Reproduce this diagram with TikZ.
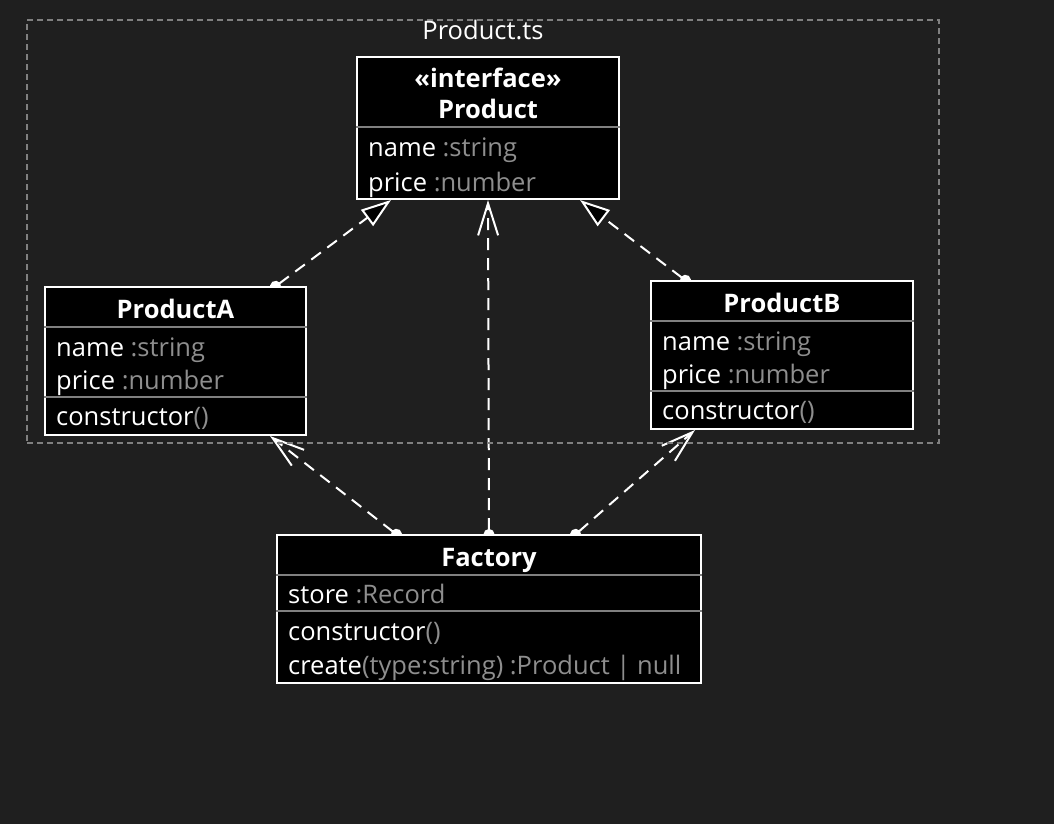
\documentclass[tikz,border=0pt]{standalone}
\usepackage{fontspec}
\setmainfont{Open Sans}
\usetikzlibrary{arrows.meta}

\definecolor{canvas}{HTML}{1F1F1F}
\definecolor{typegray}{HTML}{8E8E8E}
\definecolor{rulegray}{HTML}{808080}
\pgfdeclarelayer{canvas}
\pgfdeclarelayer{links}
\pgfsetlayers{canvas,links,main}

\tikzset{
  class/.style={draw=white,fill=black,line width=2pt,inner sep=0pt},
  title/.style={text=white,font=\fontsize{25.5}{30}\selectfont\bfseries,anchor=base,inner sep=0pt},
  member/.style={text=white,font=\fontsize{25.5}{30}\selectfont,anchor=base west,inner sep=0pt},
  sep/.style={draw=rulegray,line width=2pt},
  link/.style={draw=white,line width=2pt,dash pattern=on 12pt off 8pt,shorten <=-6pt},
  realize/.style={link,{Circle[length=11pt]}-{Triangle[length=30pt,width=20pt,fill=black]}},
  uses/.style={link,{Circle[length=11pt]}-{Straight Barb[length=32pt,width=20pt]}},
}
\newcommand{\ty}[1]{\textcolor{typegray}{#1}}

\begin{document}
\begin{tikzpicture}[x=1pt,y=-1pt]
\begin{pgfonlayer}{canvas}
\fill [canvas] (0,0) rectangle (1054,824);
\end{pgfonlayer}

\node [draw=rulegray,dash pattern=on 6pt off 4pt,line width=2pt,
       minimum width=912pt,minimum height=422pt,inner sep=0pt] (pkg) at (483,231.5) {};
\node [member,anchor=base] (pkg-name) at (483,40) {Product.ts};

% interface
\node [class,minimum width=262pt,minimum height=142pt] (prod) at (488,128) {};
\node [title] (prod-kind) at (488,88) {«interface»};
\node [title] (prod-title) at (488,118) {Product};
\draw [sep] (prod.west |- 0,127) -- (prod.east |- 0,127);
\node [member] (prod-name)  at (368,157) {name \ty{:string}};
\node [member] (prod-price) at (368,191) {price \ty{:number}};

% implementations
\node [class,minimum width=261pt,minimum height=148pt] (proda) at (175.5,361) {};
\node [title] (proda-title) at (175.5,318) {ProductA};
\draw [sep] (proda.west |- 0,327) -- (proda.east |- 0,327);
\node [member] (proda-name)  at (56,356) {name \ty{:string}};
\node [member] (proda-price) at (56,389.5) {price \ty{:number}};
\draw [sep] (proda.west |- 0,397) -- (proda.east |- 0,397);
\node [member] (proda-ctor)  at (56,425) {constructor\ty{()}};

\node [class,minimum width=262pt,minimum height=148pt] (prodb) at (782,355) {};
\node [title] (prodb-title) at (782,312) {ProductB};
\draw [sep] (prodb.west |- 0,321) -- (prodb.east |- 0,321);
\node [member] (prodb-name)  at (662,350) {name \ty{:string}};
\node [member] (prodb-price) at (662,383.5) {price \ty{:number}};
\draw [sep] (prodb.west |- 0,391) -- (prodb.east |- 0,391);
\node [member] (prodb-ctor)  at (662,419) {constructor\ty{()}};

% factory
\node [class,minimum width=424pt,minimum height=148pt] (factory) at (489,609) {};
\node [title] (factory-title) at (489,566) {Factory};
\draw [sep] (factory.west |- 0,575) -- (factory.east |- 0,575);
\node [member] (factory-store)  at (288,603) {store \ty{:Record}};
\draw [sep] (factory.west |- 0,611) -- (factory.east |- 0,611);
\node [member] (factory-ctor)   at (288,640) {constructor\ty{()}};
\node [member] (factory-create) at (288,674) {create\ty{(type:string) :Product | null}};

\begin{pgfonlayer}{links}
\draw [realize] ([xshift=100.5pt]proda.north) -- ([xshift=-97pt]prod.south);
\draw [realize] ([xshift=-97pt]prodb.north) -- ([xshift=92pt]prod.south);
\draw [uses] (factory.north) -- (prod.south);
\draw [uses] ([xshift=-93pt]factory.north) -- ([xshift=94.5pt]proda.south);
\draw [uses] ([xshift=87pt]factory.north) -- ([xshift=-87pt]prodb.south);
\end{pgfonlayer}
\end{tikzpicture}
\end{document}
